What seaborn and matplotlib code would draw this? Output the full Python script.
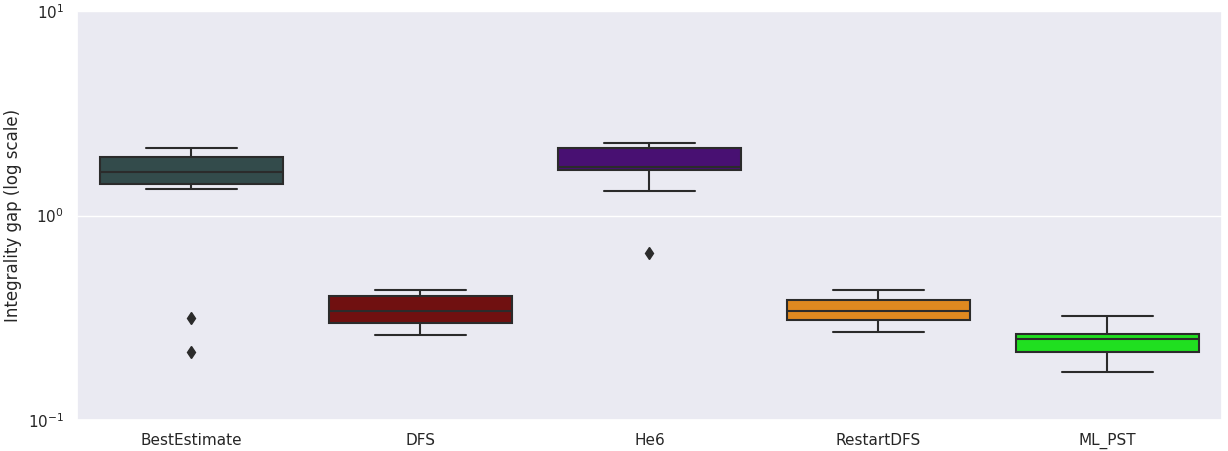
import numpy as np
import pandas as pd
import matplotlib
matplotlib.use("Agg")
import matplotlib.pyplot as plt
import seaborn as sns

categories = ["BestEstimate", "DFS", "He6", "RestartDFS", "ML_PST"]
colors = ["darkslategray", "maroon", "indigo", "darkorange", "lime"]

best_estimate = [0.216, 0.317, 1.355, 1.42, 1.50, 1.58, 1.64, 1.72, 1.85, 1.94, 2.00, 2.07, 2.13]
dfs = [0.259, 0.299, 0.340, 0.402, 0.431]
he6 = [0.654, 1.315, 1.50, 1.66, 1.68, 1.70, 1.722, 1.85, 2.00, 2.143, 2.18, 2.22, 2.257]
restart_dfs = [0.268, 0.310, 0.343, 0.387, 0.430]
ml_pst = [0.172, 0.2156, 0.250, 0.264, 0.322]

series = [best_estimate, dfs, he6, restart_dfs, ml_pst]
df = pd.DataFrame({
    "method": [c for c, s in zip(categories, series) for _ in s],
    "gap": [v for s in series for v in s],
})

sns.set_theme(style="darkgrid")
fig = plt.figure(figsize=(12.28, 4.51), dpi=100)
ax = fig.add_axes([0.0627, 0.0687, 0.9323, 0.9069])
sns.boxplot(data=df, x="method", y="gap", hue="method", order=categories,
            hue_order=categories, palette=colors, saturation=0.75,
            linecolor="#2b2b2b", linewidth=1.5, width=0.8, legend=False,
            flierprops=dict(marker="d", markerfacecolor="#2b2b2b",
                            markeredgecolor="#2b2b2b", markersize=6),
            ax=ax)
ax.set_yscale("log")
ax.set_ylim(0.1, 10)
ax.set_xlabel("")
ax.set_ylabel("Integrality gap (log scale)")
fig.savefig("out.png", dpi=100)
